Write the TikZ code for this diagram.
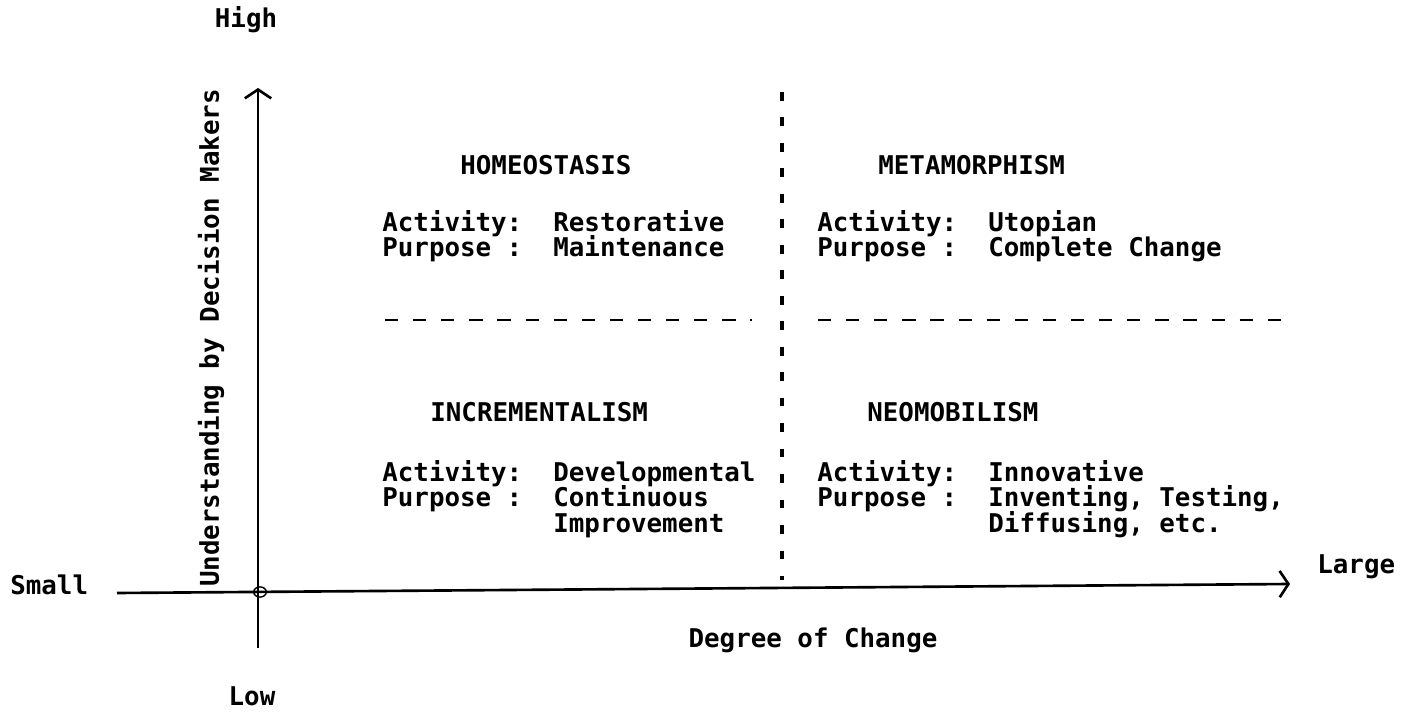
\documentclass[tikz,border=0pt]{standalone}
\usepackage{fontspec}
\setmonofont{DejaVu Sans Mono}
\usetikzlibrary{arrows.meta}
\setlength{\lineskiplimit}{-20pt}

\begin{document}
\begin{tikzpicture}[x=0.02cm,y=-0.02cm]
  \tikzstyle{every node}=[inner sep=0pt,font=\ttfamily\bfseries\fontsize{14.7}{14.5}\selectfont]
  \tikzstyle{Axis}=[line width=1.5pt,-{Straight Barb[length=5pt,width=15pt,line width=1.5pt]}]
  \tikzstyle{VSplit}=[line width=1.8pt,dash pattern=on 5pt off 9.5pt]
  \tikzstyle{HSplit}=[line width=1.7pt,dash pattern=on 7.5pt off 8.5pt]
  \tikzstyle{Title}=[anchor=west]
  \tikzstyle{Body}=[anchor=north west,align=left]
  \useasboundingbox (0,0) rectangle (1412,715);
  % axes
  \coordinate (ybot) at (258,648);
  \coordinate (ytop) at (258,88);
  \coordinate (xbeg) at (117,593);
  \coordinate (xend) at (1290,584);
  \coordinate (O) at (260,592);
  \draw[Axis] (ybot) -- (ytop);
  \draw[Axis] (xbeg) -- (xend);
  \draw[line width=0.8pt] (O) circle [x radius=3.6pt,y radius=2.9pt];
  \node (high) at (246,20) {High};
  \node (low) at (252,696) {Low};
  \node[anchor=west] (small) at (10,585) {Small};
  \node[anchor=west] (large) at (1317,567) {Large};
  \node (xlabel) at (813,640) {Degree of Change};
  \node[rotate=90] (ylabel) at (211,338) {Understanding by Decision Makers};
  % quadrant borders
  \coordinate (vtop) at (782,92);
  \coordinate (vbot) at (782,580);
  \coordinate (hl1) at (385,320);
  \coordinate (hl2) at (752,320);
  \coordinate (hr1) at (818,320);
  \coordinate (hr2) at (1287,320);
  \draw[VSplit] (vtop) -- (vbot);
  \draw[HSplit] (hl1) -- (hl2);
  \draw[HSplit] (hr1) -- (hr2);
  % upper left
  \node[Title] (homeo) at (460,165) {HOMEOSTASIS};
  \node[Body] (homeoTxt) at (382,210) {Activity:\ \ Restorative\\Purpose :\ \ Maintenance};
  % upper right
  \node[Title] (meta) at (878,165) {METAMORPHISM};
  \node[Body] (metaTxt) at (817,210) {Activity:\ \ Utopian\\Purpose :\ \ Complete Change};
  % lower left
  \node[Title] (incr) at (430,412) {INCREMENTALISM};
  \node[Body] (incrTxt) at (382,460) {Activity:\ \ Developmental\\Purpose :\ \ Continuous\\\phantom{Purpose :\ \ }Improvement};
  % lower right
  \node[Title] (neo) at (867,412) {NEOMOBILISM};
  \node[Body] (neoTxt) at (817,460) {Activity:\ \ Innovative\\Purpose :\ \ Inventing, Testing,\\\phantom{Purpose :\ \ }Diffusing, etc.};
\end{tikzpicture}
\end{document}
